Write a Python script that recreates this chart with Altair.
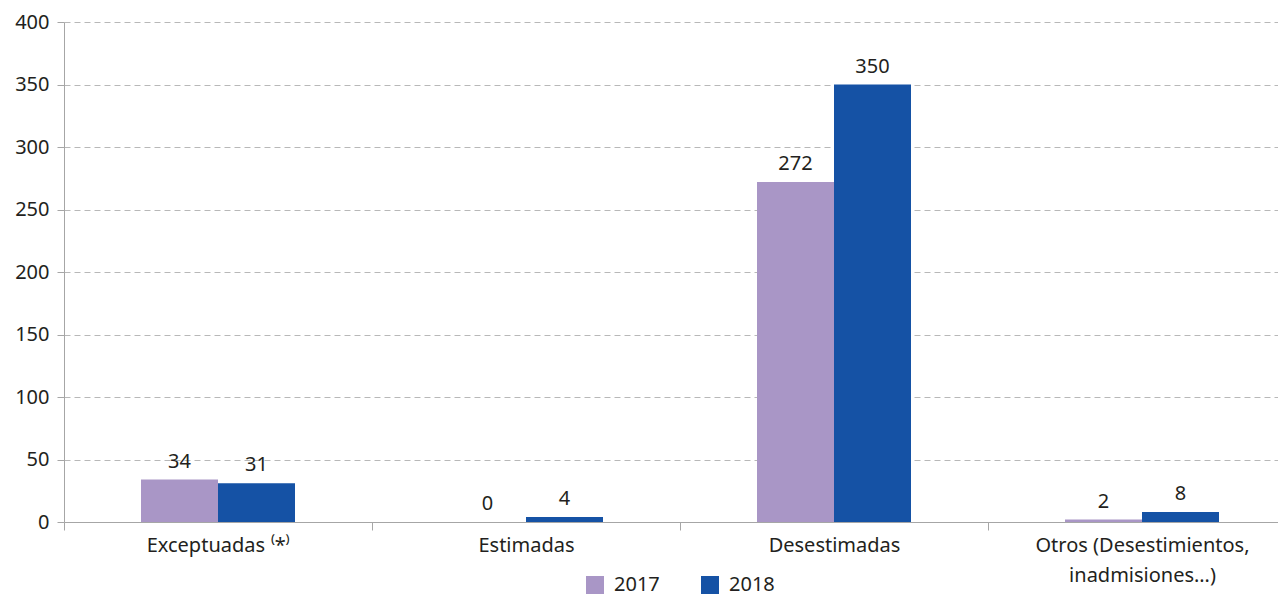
import altair as alt
import pandas as pd

categories = ["Exceptuadas ⁽*⁾", "Estimadas", "Desestimadas", "Otros (Desestimientos,|inadmisiones…)"]
years = ["2017", "2018"]
values_2017 = [34, 0, 272, 2]
values_2018 = [31, 4, 350, 8]
y_ticks = [0, 50, 100, 150, 200, 250, 300, 350, 400]
colors = ["#a996c6", "#1552a5"]

rows = []
for c, v in zip(categories, values_2017):
    rows.append({"cat": c, "year": "2017", "value": v})
for c, v in zip(categories, values_2018):
    rows.append({"cat": c, "year": "2018", "value": v})
df = pd.DataFrame(rows)

FONT = "Noto Sans"
TXT = "#231f20"
GRAY = "#a6a6a6"

base = alt.Chart(df).encode(
    x=alt.X(
        "cat:N",
        sort=categories,
        scale=alt.Scale(range=[0, 1232], paddingInner=0, paddingOuter=0),
        axis=alt.Axis(
            title=None, labelAngle=0, tickBand="extent",
            labelExpr="split(datum.label, '|')", labelLimit=0,
            domainColor=GRAY, tickColor=GRAY, tickSize=8,
            labelPadding=5, labelFontSize=20, labelFont=FONT, labelColor=TXT,
            labelLineHeight=30,
        ),
    ),
    xOffset=alt.XOffset("year:N", sort=years, scale=alt.Scale(paddingOuter=1, paddingInner=0)),
    y=alt.Y(
        "value:Q",
        scale=alt.Scale(domain=[0, 400], nice=False),
        axis=alt.Axis(
            title=None, values=y_ticks, grid=True, gridDash=[6, 4], gridColor="#b8b8b8",
            domainColor=GRAY, tickColor=GRAY, tickSize=7, labelPadding=8,
            labelFontSize=20, labelFont=FONT, labelColor=TXT,
        ),
    ),
)

bars = base.mark_bar().encode(
    color=alt.Color(
        "year:N", sort=years,
        scale=alt.Scale(domain=years, range=colors),
        legend=alt.Legend(
            title=None, orient="none", legendX=521, legendY=553, direction="horizontal",
            symbolType="square", symbolSize=324, symbolStrokeWidth=0,
            labelFontSize=20, labelFont=FONT, labelColor=TXT, labelOffset=9,
            columnPadding=40,
        ),
    )
)

labels = base.mark_text(dy=-8, baseline="bottom", fontSize=20, font=FONT, color=TXT).encode(
    text=alt.Text("value:Q")
)

chart = (
    (bars + labels)
    .properties(
        width=1214, height=500,
        autosize=alt.AutoSizeParams(type="none"),
        padding={"left": 56, "top": 14, "right": 0, "bottom": 76},
    )
    .configure_view(stroke=None)
)

chart.save("out.html", embed_options={"renderer": "svg", "actions": False})
